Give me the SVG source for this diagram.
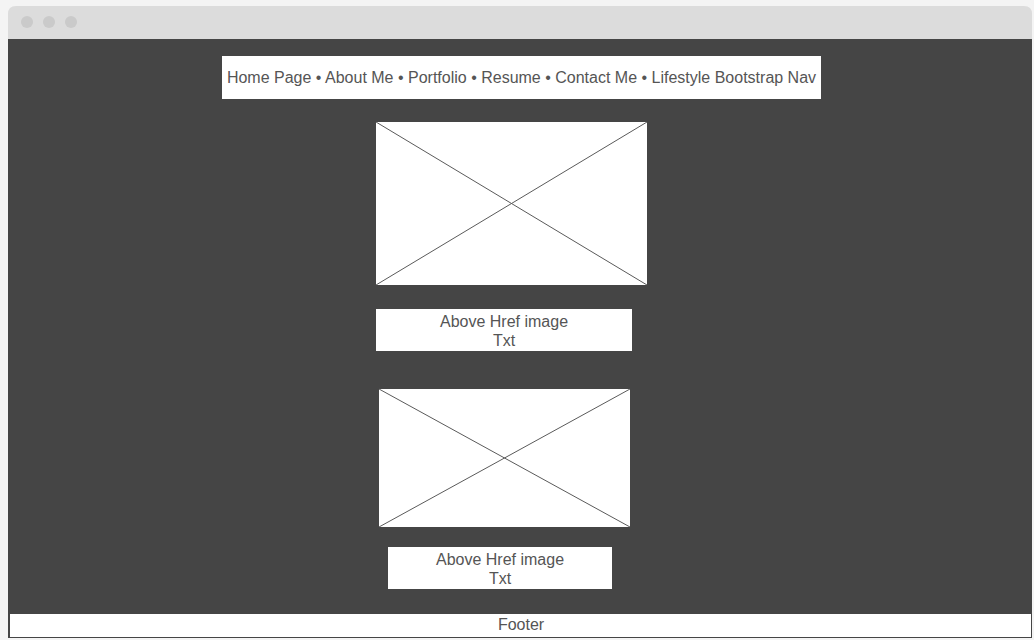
<svg xmlns="http://www.w3.org/2000/svg" width="1034" height="640" viewBox="0 0 1034 640">
  <style>
    .lbl { font-family: "Liberation Sans", Arial, sans-serif; font-size: 16px; fill: #555555; text-anchor: middle; }
    .box { fill: #ffffff; }
    .cross { stroke: #5a5a5a; stroke-width: 1; fill: none; }
    .dot { fill: #cacaca; }
  </style>
  <!-- page background -->
  <rect x="0" y="0" width="1034" height="640" fill="#f4f4f4"/>
  <!-- browser window -->
  <g id="window">
    <path d="M8 14 Q8 6 16 6 L1024 6 Q1032 6 1032 14 L1032 39 L8 39 Z" fill="#dcdcdc"/>
    <rect x="8" y="39" width="1024" height="599" fill="#454545"/>
    <circle class="dot" cx="27" cy="22" r="6"/>
    <circle class="dot" cx="49" cy="22" r="6"/>
    <circle class="dot" cx="71" cy="22" r="6"/>
  </g>
  <g id="nav">
    <rect class="box" x="222" y="56" width="599" height="43"/>
    <text class="lbl" x="521.5" y="83">Home Page • About Me • Portfolio • Resume • Contact Me • Lifestyle Bootstrap Nav</text>
  </g>
  <g id="image1">
    <rect class="box" x="376" y="122" width="271" height="163"/>
    <path class="cross" d="M376 122 L647 285 M647 122 L376 285"/>
  </g>
  <g id="caption1">
    <rect class="box" x="376" y="309" width="256" height="42"/>
    <text class="lbl" x="504" y="327">Above Href image</text>
    <text class="lbl" x="504" y="346">Txt</text>
  </g>
  <g id="image2">
    <rect class="box" x="379" y="389" width="251" height="138"/>
    <path class="cross" d="M379 389 L630 527 M630 389 L379 527"/>
  </g>
  <g id="caption2">
    <rect class="box" x="388" y="547" width="224" height="42"/>
    <text class="lbl" x="500" y="565">Above Href image</text>
    <text class="lbl" x="500" y="584">Txt</text>
  </g>
  <g id="footer">
    <rect class="box" x="10" y="614" width="1021" height="23"/>
    <text class="lbl" x="521" y="630">Footer</text>
  </g>
  <g id="connectors"/>
</svg>
